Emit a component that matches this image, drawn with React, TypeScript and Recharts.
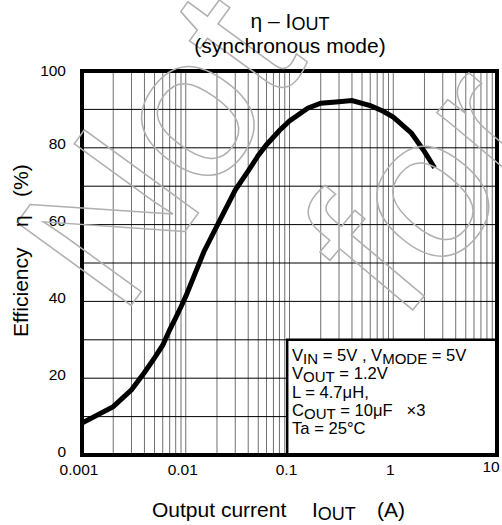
import { LineChart, Line, XAxis, YAxis, CartesianGrid, ReferenceArea } from 'recharts'

// output current (A) and efficiency (%)
const currentA = [
  0.001, 0.002, 0.003, 0.004, 0.005, 0.006, 0.007, 0.008, 0.009, 0.01,
  0.015, 0.02, 0.03, 0.04, 0.05, 0.06, 0.08, 0.1, 0.15, 0.2,
  0.3, 0.4, 0.6, 0.8, 1, 1.5, 2, 2.5,
]
const efficiencyPct = [
  8.3, 12.6, 17, 21.5, 25.3, 28.6, 32.6, 35.7, 38.6, 41.3,
  53, 59.7, 69, 74, 78, 80.8, 84.5, 87, 90.3, 91.6,
  92, 92.3, 91, 89.5, 88, 83.8, 79, 74.8,
]

const xGridTicks = [
  0.001, 0.002, 0.003, 0.004, 0.005, 0.006, 0.007, 0.008, 0.009,
  0.01, 0.02, 0.03, 0.04, 0.05, 0.06, 0.07, 0.08, 0.09,
  0.1, 0.2, 0.3, 0.4, 0.5, 0.6, 0.7, 0.8, 0.9,
  1, 2, 3, 4, 5, 6, 7, 8, 9, 10,
]
const xLabelTicks = [0.001, 0.01, 0.1, 1, 10]
const yGridTicks = [0, 10, 20, 30, 40, 50, 60, 70, 80, 90, 100]
const yLabelTicks = [0, 20, 40, 60, 80, 100]

const data = currentA.map((x, i) => ({ x, eff: efficiencyPct[i] }))

const FONT = '"Liberation Sans", Arial, sans-serif'

function XTick({ x, y, payload }: any) {
  if (!xLabelTicks.includes(payload.value)) return <g />
  const last = payload.value === 10
  return (
    <text x={x + (last ? -6 : -3)} y={y + (last ? 17 : 20)} textAnchor="middle" fontSize={15.5} fill="#000" fontFamily={FONT}>
      {String(payload.value)}
    </text>
  )
}

function YTick({ x, y, payload }: any) {
  if (!yLabelTicks.includes(payload.value)) return <g />
  return (
    <text x={x - 16} y={y + (payload.value === 100 ? 5 : 1.5)} textAnchor="end" fontSize={15.5} fill="#000" fontFamily={FONT}>
      {String(payload.value)}
    </text>
  )
}

export default function App() {
  return (
    <div style={{ position: 'absolute', left: 0, top: 0, width: 502, height: 525, background: '#fff', fontFamily: FONT }}>
      <LineChart width={502} height={525} data={data} margin={{ top: 71, right: 5, bottom: 40, left: 0 }} style={{ fontFamily: FONT }}>
        <CartesianGrid horizontal={false} stroke="#707070" strokeWidth={1} />
        <CartesianGrid vertical={false} stroke="#000" strokeWidth={1} />
        <XAxis
          dataKey="x"
          type="number"
          scale="log"
          domain={[0.001, 10]}
          allowDataOverflow
          ticks={xGridTicks}
          interval={0}
          axisLine={false}
          tickLine={false}
          tickSize={0}
          tickMargin={0}
          height={30}
          tick={XTick}
        />
        <YAxis
          type="number"
          domain={[0, 100]}
          ticks={yGridTicks}
          interval={0}
          axisLine={false}
          tickLine={false}
          tickSize={0}
          tickMargin={0}
          width={82}
          tick={YTick}
        />
        <ReferenceArea x1={0.095} x2={10} y1={0} y2={30} fill="#fff" fillOpacity={1} stroke="#000" strokeWidth={2.5} />
        <Line type="linear" dataKey="eff" stroke="#000" strokeWidth={5} dot={false} isAnimationActive={false} />
        <ReferenceArea x1={0.001} x2={10} y1={0} y2={100} fill="none" stroke="#000" strokeWidth={4} />
      </LineChart>

      <svg width={502} height={525} style={{ position: 'absolute', left: 0, top: 0, pointerEvents: 'none' }} fontFamily={FONT}>
        {/* watermark */}
        <g fill="none" stroke="#b0b0b0" strokeWidth={1.5} fontSize={205}>
          <text x={215} y={190} textAnchor="middle" transform="rotate(-54 215 190)">Not</text>
          <text x={478} y={232} textAnchor="middle" transform="rotate(-50 478 232)">for</text>
        </g>

        {/* title */}
        <text x={290} y={28} textAnchor="middle" fontSize={21} fill="#000">
          {'η – I'}
          <tspan fontSize={18} dy={2}>OUT</tspan>
        </text>
        <text x={290} y={53} textAnchor="middle" fontSize={21} fill="#000">(synchronous mode)</text>

        {/* axis titles */}
        <text x={152} y={517} fontSize={21} fill="#000">Output current</text>
        <text x={312} y={517} fontSize={21} fill="#000">
          I<tspan fontSize={18} dy={3}>OUT</tspan>
        </text>
        <text x={377} y={517} fontSize={21} fill="#000">(A)</text>

        <text transform="translate(28 337) rotate(-90)" fontSize={21} fill="#000">Efficiency</text>
        <text transform="translate(28 227) rotate(-90)" fontSize={21} fill="#000">η</text>
        <text transform="translate(28 197) rotate(-90)" fontSize={21} fill="#000">(%)</text>

        {/* conditions box text */}
        <g fontSize={16.6} fill="#000">
          <text x={292} y={361}>
            V<tspan fontSize={15} dy={3}>IN</tspan>
            <tspan dy={-3}>{' = 5V , V'}</tspan>
            <tspan fontSize={15} dy={3}>MODE</tspan>
            <tspan dy={-3}>{' = 5V'}</tspan>
          </text>
          <text x={292} y={379.3}>
            V<tspan fontSize={15} dy={3}>OUT</tspan>
            <tspan dy={-3}>{' = 1.2V'}</tspan>
          </text>
          <text x={292} y={397.6}>L = 4.7μH,</text>
          <text x={292} y={415.9} style={{ whiteSpace: 'pre' }}>
            C<tspan fontSize={15} dy={3}>OUT</tspan>
            <tspan dy={-3}>{' = 10μF   ×3'}</tspan>
          </text>
          <text x={292} y={434.2}>Ta = 25°C</text>
        </g>
      </svg>
    </div>
  )
}
